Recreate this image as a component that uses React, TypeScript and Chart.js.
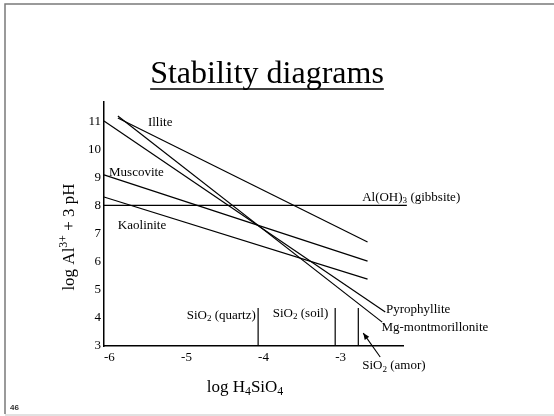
import { useEffect, useRef } from 'react';
import { Chart, registerables } from 'chart.js';

Chart.register(...registerables);

// ---- data ----
const X_TICKS = [-6, -5, -4, -3];
const Y_TICKS = [3, 4, 5, 6, 7, 8, 9, 10, 11];

const ILLITE_X = [-5.82, -2.58];
const ILLITE_Y = [11.11, 6.7];
const MUSCOVITE_X = [-6, -2.58];
const MUSCOVITE_Y = [9.09, 6.02];
const KAOLINITE_X = [-6, -2.58];
const KAOLINITE_Y = [8.3, 5.38];
const PYROPHYLLITE_X = [-6, -2.35];
const PYROPHYLLITE_Y = [11.0, 4.21];
const MGMONT_X = [-5.82, -2.39];
const MGMONT_Y = [11.18, 3.85];
const GIBBSITE_X = [-6, -2.07];
const GIBBSITE_Y = [8, 8];

const SILICA_NAMES = ['quartz', 'soil', 'amor'];
const SILICA_X = [-4, -3, -2.7];
const SILICA_TOP = [4.35, 4.35, 4.35];

const X_MIN = -6;
const X_MAX = -2.12;
const Y_MIN = 3;
const Y_MAX = 11.68;

type Seg = { t: string; sub?: boolean; sup?: boolean };

// label anchors (data coordinates)
const LABELS: { segs: Seg[]; x: number; y: number; align: 'left' | 'right' }[] = [
  { segs: [{ t: 'Illite' }], x: -5.43, y: 10.94, align: 'left' },
  { segs: [{ t: 'Muscovite' }], x: -5.935, y: 9.16, align: 'left' },
  { segs: [{ t: 'Kaolinite' }], x: -5.82, y: 7.27, align: 'left' },
  { segs: [{ t: 'Al(OH)' }, { t: '3', sub: true }, { t: ' (gibbsite)' }], x: -2.65, y: 8.27, align: 'left' },
  { segs: [{ t: 'Pyrophyllite' }], x: -2.34, y: 4.28, align: 'left' },
  { segs: [{ t: 'Mg-montmorillonite' }], x: -2.4, y: 3.64, align: 'left' },
  { segs: [{ t: 'SiO' }, { t: '2', sub: true }, { t: ' (quartz)' }], x: -4.03, y: 4.1, align: 'right' },
  { segs: [{ t: 'SiO' }, { t: '2', sub: true }, { t: ' (soil)' }], x: -3.81, y: 4.17, align: 'left' },
  { segs: [{ t: 'SiO' }, { t: '2', sub: true }, { t: ' (amor)' }], x: -2.65, y: 2.29, align: 'left' },
];

const ARROW_FROM = { x: -2.416, y: 2.61 };
const ARROW_TO = { x: -2.636, y: 3.46 };

const SERIF = '"Liberation Serif", "Times New Roman", serif';

function segWidth(ctx: CanvasRenderingContext2D, segs: Seg[], size: number) {
  let w = 0;
  for (const s of segs) {
    const fs = s.sub || s.sup ? size * 0.7 : size;
    ctx.font = `${fs}px ${SERIF}`;
    w += ctx.measureText(s.t).width;
  }
  return w;
}

function drawRich(
  ctx: CanvasRenderingContext2D,
  segs: Seg[],
  x: number,
  y: number,
  size: number,
  align: 'left' | 'right' | 'center'
) {
  const w = segWidth(ctx, segs, size);
  let cx = align === 'left' ? x : align === 'right' ? x - w : x - w / 2;
  ctx.textAlign = 'left';
  ctx.textBaseline = 'middle';
  ctx.fillStyle = '#000';
  for (const s of segs) {
    const fs = s.sub || s.sup ? size * 0.7 : size;
    ctx.font = `${fs}px ${SERIF}`;
    const dy = s.sub ? size * 0.25 : s.sup ? -size * 0.35 : 0;
    ctx.fillText(s.t, cx, y + dy);
    cx += ctx.measureText(s.t).width;
  }
}

function pts(xs: number[], ys: number[]) {
  return xs.map((x, i) => ({ x, y: ys[i] }));
}

const decorPlugin = {
  id: 'decor',
  afterDraw(chart: any) {
    const ctx: CanvasRenderingContext2D = chart.ctx;
    const xs = chart.scales.x;
    const ys = chart.scales.y;
    const area = chart.chartArea;
    ctx.save();

    // slide frame
    ctx.strokeStyle = '#7a7a7a';
    ctx.lineWidth = 1.5;
    ctx.beginPath();
    ctx.moveTo(5, 414);
    ctx.lineTo(5, 4);
    ctx.lineTo(554, 4);
    ctx.stroke();
    ctx.strokeStyle = '#c4c4c4';
    ctx.lineWidth = 1.2;
    ctx.beginPath();
    ctx.moveTo(5, 415);
    ctx.lineTo(554, 415);
    ctx.stroke();

    // title
    ctx.font = `32px ${SERIF}`;
    ctx.fillStyle = '#000';
    ctx.textAlign = 'center';
    ctx.textBaseline = 'alphabetic';
    const title = 'Stability diagrams';
    const tx = 267;
    ctx.fillText(title, tx, 83);
    const tw = ctx.measureText(title).width;
    ctx.strokeStyle = '#000';
    ctx.lineWidth = 1.5;
    ctx.beginPath();
    ctx.moveTo(tx - tw / 2, 89);
    ctx.lineTo(tx + tw / 2, 89);
    ctx.stroke();

    // axis titles
    ctx.save();
    ctx.translate(70, (area.top + area.bottom) / 2 + 13);
    ctx.rotate(-Math.PI / 2);
    drawRich(ctx, [{ t: 'log Al' }, { t: '3+', sup: true }, { t: ' + 3 pH' }], 0, 0, 17, 'center');
    ctx.restore();
    drawRich(ctx, [{ t: 'log H' }, { t: '4', sub: true }, { t: 'SiO' }, { t: '4', sub: true }], 245, 388, 17, 'center');

    // labels
    for (const l of LABELS) {
      drawRich(ctx, l.segs, xs.getPixelForValue(l.x), ys.getPixelForValue(l.y), 13, l.align);
    }

    // arrow
    const ax0 = xs.getPixelForValue(ARROW_FROM.x);
    const ay0 = ys.getPixelForValue(ARROW_FROM.y);
    const ax1 = xs.getPixelForValue(ARROW_TO.x);
    const ay1 = ys.getPixelForValue(ARROW_TO.y);
    ctx.strokeStyle = '#000';
    ctx.lineWidth = 1.1;
    ctx.beginPath();
    ctx.moveTo(ax0, ay0);
    ctx.lineTo(ax1, ay1);
    ctx.stroke();
    const ang = Math.atan2(ay1 - ay0, ax1 - ax0);
    const hl = 7;
    ctx.fillStyle = '#000';
    ctx.beginPath();
    ctx.moveTo(ax1, ay1);
    ctx.lineTo(ax1 - hl * Math.cos(ang - 0.4), ay1 - hl * Math.sin(ang - 0.4));
    ctx.lineTo(ax1 - hl * Math.cos(ang + 0.4), ay1 - hl * Math.sin(ang + 0.4));
    ctx.closePath();
    ctx.fill();

    // page number
    ctx.font = 'bold 8px "Liberation Sans", Arial, sans-serif';
    ctx.textAlign = 'left';
    ctx.textBaseline = 'middle';
    ctx.fillStyle = '#333';
    ctx.fillText('46', 10, 408);

    ctx.restore();
  },
};

export default function App() {
  const ref = useRef<HTMLCanvasElement | null>(null);

  useEffect(() => {
    if (!ref.current) return;
    const line = (data: { x: number; y: number }[], label: string) => ({
      label,
      data,
      showLine: true,
      borderColor: '#000',
      backgroundColor: '#000',
      borderWidth: 1.2,
      pointRadius: 0,
      fill: false,
      clip: false as any,
    });
    const datasets: any[] = [
      line(pts(ILLITE_X, ILLITE_Y), 'Illite'),
      line(pts(MUSCOVITE_X, MUSCOVITE_Y), 'Muscovite'),
      line(pts(KAOLINITE_X, KAOLINITE_Y), 'Kaolinite'),
      line(pts(PYROPHYLLITE_X, PYROPHYLLITE_Y), 'Pyrophyllite'),
      line(pts(MGMONT_X, MGMONT_Y), 'Mg-montmorillonite'),
      line(pts(GIBBSITE_X, GIBBSITE_Y), 'Gibbsite'),
      ...SILICA_X.map((x, i) =>
        line(
          [
            { x, y: Y_MIN },
            { x, y: SILICA_TOP[i] },
          ],
          'SiO2 ' + SILICA_NAMES[i]
        )
      ),
    ];

    const chart = new Chart(ref.current, {
      type: 'scatter',
      data: { datasets },
      options: {
        animation: false,
        responsive: false,
        maintainAspectRatio: false,
        layout: { padding: { left: 74, top: 102, right: 151, bottom: 40 } },
        plugins: { legend: { display: false }, tooltip: { enabled: false }, title: { display: false } },
        scales: {
          x: {
            type: 'linear',
            min: X_MIN,
            max: X_MAX,
            grid: { display: false, drawTicks: false },
            border: { display: true, color: '#000', width: 1.5 },
            afterBuildTicks: (s: any) => {
              s.ticks = X_TICKS.map((v) => ({ value: v }));
            },
            afterFit: (s: any) => {
              s.height = 30;
            },
            ticks: {
              color: '#000',
              font: { family: SERIF, size: 13 },
              padding: 4,
              align: 'start',
              maxRotation: 0,
              callback: (v: any) => String(v),
            },
          },
          y: {
            type: 'linear',
            min: Y_MIN,
            max: Y_MAX,
            grid: { display: false, drawTicks: false },
            border: { display: true, color: '#000', width: 1.5 },
            afterBuildTicks: (s: any) => {
              s.ticks = Y_TICKS.map((v) => ({ value: v }));
            },
            afterFit: (s: any) => {
              s.width = 30;
            },
            ticks: {
              color: '#000',
              font: { family: SERIF, size: 13 },
              padding: 3,
              callback: (v: any) => String(v),
            },
          },
        },
      },
      plugins: [decorPlugin],
    });
    return () => chart.destroy();
  }, []);

  return (
    <div style={{ position: 'fixed', left: 0, top: 0, width: 554, height: 416, background: '#fff' }}>
      <canvas ref={ref} width={554} height={416} style={{ display: 'block', width: 554, height: 416 }} />
    </div>
  );
}
